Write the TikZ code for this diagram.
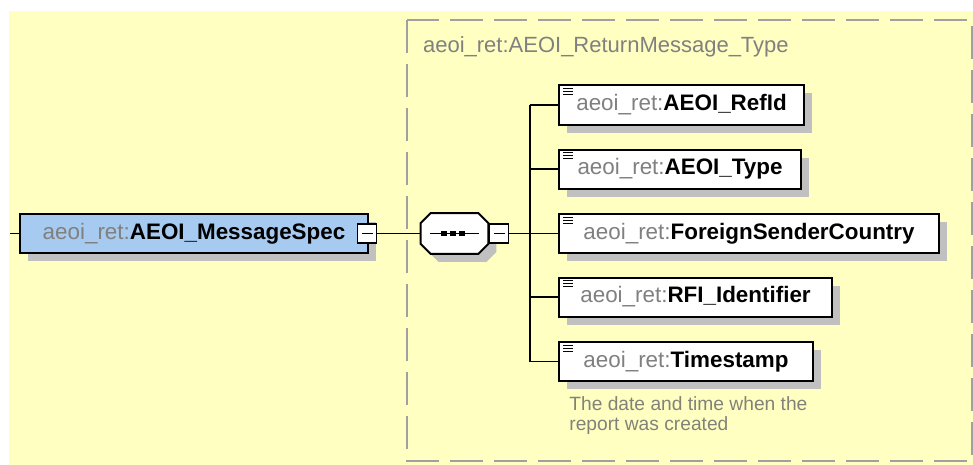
\documentclass[tikz,border=0pt]{standalone}
\usepackage{fontspec}
\setmainfont{Liberation Sans}
\usepackage{tikz}
\usetikzlibrary{positioning, shadows}

\definecolor{bgyellow}{RGB}{255,255,194}
\definecolor{elemblue}{RGB}{166,202,240}
\definecolor{shadowgray}{RGB}{192,192,192}
\definecolor{framegray}{RGB}{160,160,160}
\definecolor{prefixgray}{RGB}{128,128,128}
\definecolor{notegray}{RGB}{130,130,120}

% Ten phan tu: tien to mau xam + ten dam
\newcommand{\xsdname}[1]{\textcolor{prefixgray}{aeoi\_ret:}\textbf{#1}}
% Duong bat giac quanh mot nut (goc vat 5pt)
\newcommand{\octpath}[1]{([xshift=5pt]#1.north west) -- ([xshift=-5pt]#1.north east)
    -- ([yshift=-5pt]#1.north east) -- ([yshift=5pt]#1.south east)
    -- ([xshift=-5pt]#1.south east) -- ([xshift=5pt]#1.south west)
    -- ([yshift=5pt]#1.south west) -- ([yshift=-5pt]#1.north west) -- cycle}

\tikzset{
    elem/.style={draw, line width=1pt, fill=white, minimum height=19.5pt, inner sep=0pt,
        font=\fontsize{11.2}{13}\selectfont,
        drop shadow={shadow xshift=4pt, shadow yshift=-4pt, fill=shadowgray, opacity=1}},
    childelem/.style={elem, anchor=west,
        path picture={
            \foreach \dy in {1.6pt,3.1pt,4.6pt}
                \draw[line width=0.5pt] ([shift={(2pt,-\dy)}]path picture bounding box.north west) -- ++(5pt,0);
        }},
    minusbox/.style={draw, line width=0.9pt, fill=white, minimum size=9.5pt, inner sep=0pt,
        path picture={
            \draw[line width=0.7pt] ([xshift=2pt]path picture bounding box.west) -- ([xshift=-2pt]path picture bounding box.east);
        }},
    seqbox/.style={minimum width=33.5pt, minimum height=20pt, inner sep=0pt},
    seqdot/.style={fill, minimum size=2.8pt, inner sep=0pt},
    wire/.style={line width=0.9pt},
}

\begin{document}
\begin{tikzpicture}[x=0.5pt, y=-0.5pt] % 1 don vi = 1 pixel cua hinh goc, truc y huong xuong
    \useasboundingbox (0,0) rectangle (973,465);

    % Nen vang
    \fill[bgyellow] (9,11) rectangle (973,465);

    % Khung net dut cua kieu phuc hop
    \draw[framegray, line width=1.3pt, dash pattern=on 16.5pt off 5.5pt] (407,20) rectangle (972,461);
    \node[anchor=west, text=prefixgray, font=\fontsize{11}{13}\selectfont] (typename) at (416,47)
        {aeoi\_ret:AEOI\_ReturnMessage\_Type};

    % Phan tu goc
    \coordinate (inlet) at (10,233.5);
    \node[elem, fill=elemblue, minimum width=174pt] (spec) at (194,233.5) {\xsdname{AEOI\_MessageSpec}};
    \node[minusbox] (specmin) at (367,233.5) {};

    % Nhom sequence (hinh bat giac)
    \node[seqbox] (seq) at (454.5,233.5) {};
    \fill[shadowgray, transform canvas={shift={(4pt,-4pt)}}] \octpath{seq};
    \draw[line width=1pt, fill=white] \octpath{seq};
    \draw[line width=0.8pt] ([xshift=4.5pt]seq.west) -- ([xshift=-4.5pt]seq.east);
    \node[seqdot] (d1) at (444,233.5) {};
    \node[seqdot] (d2) at (453,233.5) {};
    \node[seqdot] (d3) at (462,233.5) {};
    \node[minusbox] (seqmin) at (499,233.5) {};
    \coordinate (trunk) at (530,233.5);

    % Cac phan tu con
    \node[childelem, minimum width=122.5pt] (refid)   at (558,105)   {\xsdname{AEOI\_RefId}};
    \node[childelem, minimum width=121pt]   (type)    at (558,169)   {\xsdname{AEOI\_Type}};
    \node[childelem, minimum width=190pt]   (country) at (558,233.5) {\xsdname{ForeignSenderCountry}};
    \node[childelem, minimum width=136.5pt] (rfi)     at (558,297)   {\xsdname{RFI\_Identifier}};
    \node[childelem, minimum width=127pt]   (stamp)   at (558,361.5) {\xsdname{Timestamp}};

    % Chu thich
    \node[anchor=north west, align=left, inner sep=0pt, text=notegray, font=\fontsize{9.6}{10}\selectfont] (note)
        at (569,396) {The date and time when the\\report was created};

    % Duong noi
    \draw[wire] (inlet) -- (spec.west);
    \draw[wire] (specmin.east) -- (seq.west);
    \draw[wire] (seqmin.east) -- (trunk);
    \draw[wire] (trunk |- refid.west) -- (trunk |- stamp.west);
    \foreach \c in {refid, type, country, rfi, stamp}
        \draw[wire] (trunk |- \c.west) -- (\c.west);
\end{tikzpicture}
\end{document}
